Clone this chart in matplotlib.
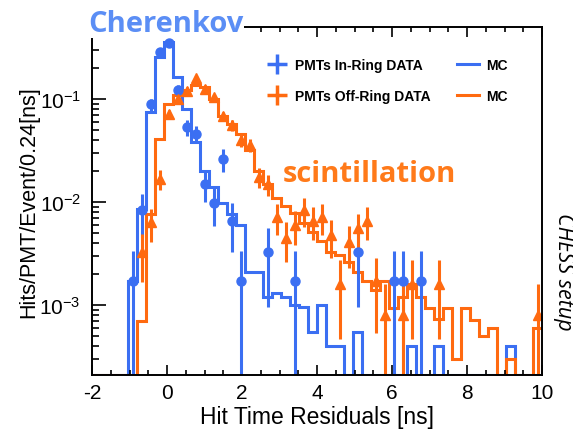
import numpy as np
import matplotlib
matplotlib.use('Agg')
import matplotlib.pyplot as plt
from matplotlib.lines import Line2D
from matplotlib.ticker import MultipleLocator, LogLocator, NullFormatter

plt.rcParams['font.family'] = ['Liberation Sans', 'DejaVu Sans']
plt.rcParams['mathtext.default'] = 'regular'
plt.rcParams['axes.unicode_minus'] = False

# 0.24 ns binning from -2 to 10 ns
edges = np.linspace(-2, 10, 51)

# MC histograms (Hits/PMT/Event per bin)
mc_in = [0, 0, 0, 0, 0.0017, 0.0085, 0.075, 0.256, 0.357, 0.164,
         0.080, 0.038, 0.020, 0.014, 0.0098, 0.0076, 0.006, 0.0021, 0.0021, 0.0012,
         0.0013, 0.0012, 0.001, 0.00095, 0.00055, 0.001, 0.0004, 0.0004, 0, 0.00055,
         0, 0, 0, 0, 0, 0.0004, 0, 0, 0.0004, 0,
         0, 0, 0, 0, 0, 0, 0.0004, 0, 0, 0]
mc_off = [0, 0, 0, 0, 0, 0.0007, 0.0076, 0.041, 0.089, 0.11,
          0.123, 0.136, 0.13, 0.10, 0.069, 0.0575, 0.046, 0.032, 0.020, 0.015,
          0.011, 0.0092, 0.0078, 0.0063, 0.0051, 0.0042, 0.0033, 0.0031, 0.0026, 0.0021,
          0.0017, 0.0014, 0.0017, 0.00093, 0.0012, 0.0016, 0.0012, 0.00093, 0.00074, 0.00093,
          0.0003, 0.00093, 0.00072, 0.0005, 0.0006, 0, 0.0003, 0, 0, 0.0006]

# data points (bin centres)
t_in = [-0.92, -0.68, -0.44, -0.20, 0.04, 0.28, 0.52, 0.76, 1.00, 1.24,
        1.48, 1.72, 1.96, 2.68, 3.40, 5.08, 6.04, 6.28, 6.76]
y_in = [0.0017, 0.0083, 0.089, 0.286, 0.35, 0.123, 0.0535, 0.046, 0.0151, 0.0099,
        0.026, 0.0066, 0.0017, 0.0033, 0.0017, 0.0033, 0.0017, 0.0017, 0.0017]
t_off = [-0.68, -0.44, -0.20, 0.04, 0.28, 0.52, 0.76, 1.00, 1.24, 1.48,
         1.72, 1.96, 2.20, 2.44, 2.68, 2.92, 3.16, 3.40, 3.64, 3.88,
         4.12, 4.36, 4.60, 4.84, 5.08, 5.32, 5.56, 5.80, 6.28, 6.52,
         7.24, 9.88]
y_off = [0.0033, 0.0064, 0.0168, 0.071, 0.10, 0.12, 0.16, 0.126, 0.104, 0.068,
         0.056, 0.040, 0.036, 0.0175, 0.015, 0.0072, 0.0045, 0.006, 0.0083, 0.0066,
         0.0072, 0.0048, 0.0016, 0.0041, 0.0056, 0.0066, 0.0017, 0.0008, 0.0008, 0.0016,
         0.0016, 0.0008]
# value of a single hit, used for poisson errors
unit_in = 0.00166
unit_off = 0.0008

blue = '#3b6ff2'
orange = '#ff6a10'
ymin, ymax = 2.1e-4, 0.5

fig = plt.figure(figsize=(5.73, 4.31), dpi=100)
ax = fig.add_axes([0.1606, 0.1276, 0.7854, 0.8074])

def floor(v):
    v = np.asarray(v, float)
    return np.where(v > 0, v, ymin)

ax.stairs(floor(mc_in), edges, baseline=None, color=blue, lw=2.2)
ax.stairs(floor(mc_off), edges, baseline=None, color=orange, lw=2.2)

y_in = np.array(y_in)
e_in = np.sqrt(y_in * unit_in)
ax.errorbar(t_in, y_in, yerr=[np.minimum(e_in, y_in * 0.999), e_in], fmt='o',
            color=blue, ms=6.5, elinewidth=2.2, capsize=0)
y_off = np.array(y_off)
e_off = np.sqrt(y_off * unit_off)
ax.errorbar(t_off, y_off, yerr=[np.minimum(e_off, y_off * 0.999), e_off], fmt='^',
            color=orange, ms=6.5, elinewidth=2.2, capsize=0)

ax.set_yscale('log')
ax.set_xlim(-2, 10)
ax.set_ylim(ymin, ymax)
ax.xaxis.set_major_locator(MultipleLocator(2))
ax.xaxis.set_minor_locator(MultipleLocator(0.5))
ax.yaxis.set_minor_locator(LogLocator(base=10, subs=np.arange(2, 10)))
ax.yaxis.set_minor_formatter(NullFormatter())
ax.tick_params(axis='x', which='major', direction='in', length=7, width=1.2,
               labelsize=15, pad=6, top=True)
ax.tick_params(axis='x', which='minor', direction='in', length=3.5, width=1.2, top=True)
ax.tick_params(axis='y', which='major', direction='in', length=10, width=1.2,
               labelsize=15, pad=8)
ax.tick_params(axis='y', which='minor', direction='in', length=5, width=1.2)
for s in ax.spines.values():
    s.set_linewidth(1.4)

ax.set_xlabel('Hit Time Residuals [ns]', fontsize=16.5, labelpad=2)
ax.set_ylabel('Hits/PMT/Event/0.24[ns]', fontsize=15.5, labelpad=0)

handles = [
    Line2D([], [], color=blue, marker='+', ms=14, mew=2.5, ls='none'),
    Line2D([], [], color=orange, marker='+', ms=14, mew=2.5, ls='none'),
    Line2D([], [], color=blue, lw=2.2),
    Line2D([], [], color=orange, lw=2.2),
]
labels = ['PMTs In-Ring DATA', 'PMTs Off-Ring DATA', 'MC', 'MC']
ax.legend(handles, labels, ncol=2, frameon=False, loc='upper left',
          bbox_to_anchor=(0.37, 0.93), prop={'weight': 'bold', 'size': 10},
          handlelength=1.6, handletextpad=0.5, columnspacing=1.9, labelspacing=1.2,
          borderpad=0)

fig.text(0.154, 0.925, 'Cherenkov', family='Open Sans', weight='bold', fontsize=21,
         color='#5b8ef5', va='baseline', bbox=dict(fc='white', ec='none', pad=0))
fig.text(0.494, 0.578, 'scintillation', family='Open Sans', weight='bold', fontsize=21,
         color='#ff7a1a', va='baseline')
fig.text(0.983, 0.369, 'CHESS setup', family='Open Sans', style='italic', fontsize=15.5,
         rotation=-90, ha='center', va='center')

fig.savefig('out.png', dpi=100)
